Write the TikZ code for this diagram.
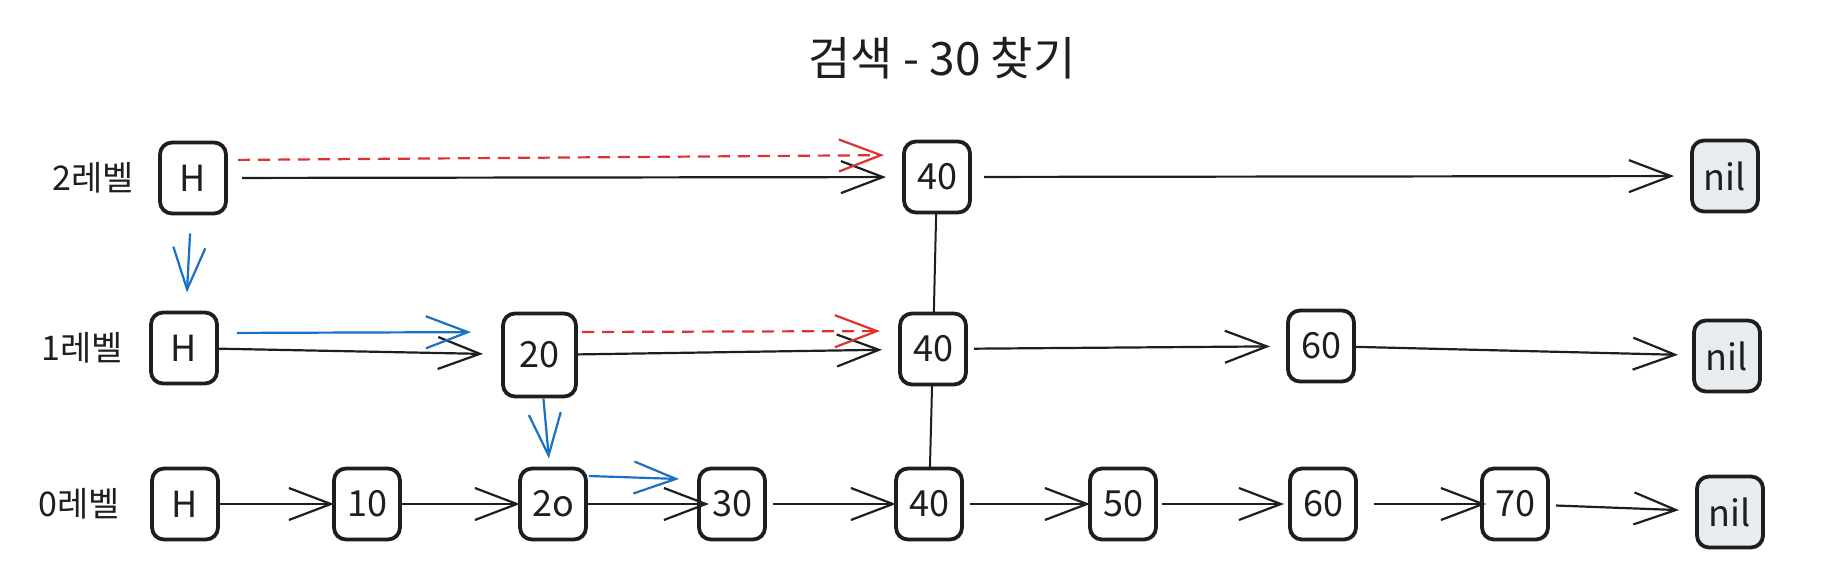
\documentclass[tikz,border=0pt]{standalone}
\usepackage{fontspec}
\setmainfont{Noto Sans CJK KR}
\usepackage{xcolor}
\usetikzlibrary{arrows.meta,positioning}
\definecolor{ink}{HTML}{1E1E1E}
\definecolor{pathred}{HTML}{E03131}
\definecolor{pathblue}{HTML}{1971C2}
\definecolor{nilgray}{HTML}{E9ECEF}

\begin{document}
\begin{tikzpicture}
            \tikzstyle{block} = [draw=ink, line width=1.9pt, rounded corners=6pt, outer sep=0pt, minimum width=33pt, minimum height=35.5pt, inner sep=1pt, text=ink, font=\fontsize{18}{20}\selectfont]
            \tikzstyle{nilblock} = [block, fill=nilgray]
            \tikzstyle{level} = [inner sep=0pt, outer sep=0pt, text=ink, font=\fontsize{17}{20}\selectfont]
            \tikzstyle{link} = [draw=ink, line width=1.1pt, -{Straight Barb[length=21pt,width=16pt]}]
            \tikzstyle{search} = [link, draw=pathblue]
            \tikzstyle{miss} = [link, draw=pathred, dash pattern=on 6pt off 4pt]
            \useasboundingbox (0pt,0pt) rectangle (924pt,-292pt);

            \node [text=ink, font=\fontsize{23}{26}\selectfont] (title) at (471pt,-29pt) {검색 - 30 찾기};

            % level 0
            \node [block] (h0) at (92.5pt,-252pt) {H};
            \node [block, right = 58pt of h0] (l0n10) {10};
            \node [block, right = 60pt of l0n10] (l0n20) {2o};
            \node [block, right = 56.5pt of l0n20] (l0n30) {30};
            \node [block, right = 65.5pt of l0n30] (l0n40) {40};
            \node [block, right = 64pt of l0n40] (l0n50) {50};
            \node [block, right = 67pt of l0n50] (l0n60) {60};
            \node [block, right = 63pt of l0n60] (l0n70) {70};
            \node [nilblock, right = 74.5pt of l0n70, yshift=-4pt] (nil0) {nil};
            \node [level, left = 16pt of h0] (lv0) {0레벨};

            % level 1
            \node [block, above = 42.5pt of h0, xshift=-0.5pt] (h1) {H};
            \node [block, right = 143pt of h1, yshift=-3.5pt, minimum width=36.5pt, minimum height=41.5pt] (l1n20) {20};
            \node [block, above = 42pt of l0n40, xshift=2pt] (l1n40) {40};
            \node [block, above = 43.5pt of l0n60, xshift=-1pt] (l1n60) {60};
            \node [nilblock, above = 42.5pt of nil0, xshift=-1.5pt] (nil1) {nil};
            \node [level, left = 14pt of h1] (lv1) {1레벨};

            % level 2
            \node [block, above = 49.5pt of h1, xshift=4.5pt] (h2) {H};
            \node [block, above = 50.5pt of l1n40, xshift=2pt] (l2n40) {40};
            \node [nilblock, above = 54.5pt of nil1, xshift=-1pt] (nil2) {nil};
            \node [level, left = 13pt of h2] (lv2) {2레벨};

            \draw [link, shorten <=8pt, shorten >=9pt] (h2) -- (l2n40);
            \draw [link, shorten <=7pt, shorten >=9pt] (l2n40) -- (nil2);
            \draw [miss, shorten <=6pt, shorten >=10pt] ([yshift=9pt]h2.east) -- ([yshift=11pt]l2n40.west);

            \draw [link, shorten <=1pt, shorten >=10pt] (h1) -- (l1n20);
            \draw [link, shorten <=1pt, shorten >=9pt] (l1n20) -- (l1n40);
            \draw [link, shorten <=4pt, shorten >=9pt] (l1n40) -- (l1n60);
            \draw [link, shorten <=1pt, shorten >=8pt] (l1n60) -- (nil1);
            \draw [search, shorten <=10pt, shorten >=16pt] ([yshift=7.5pt]h1.east) -- ([yshift=11.5pt]l1n20.west);
            \draw [miss, shorten <=3pt, shorten >=10pt] ([yshift=11.5pt]l1n20.east) -- ([yshift=9pt]l1n40.west);

            \draw [link] (h0) -- (l0n10);
            \draw [link] (l0n10) -- (l0n20);
            \draw [link, shorten <=1pt, shorten >=-5pt] (l0n20) -- (l0n30);
            \draw [link, shorten <=4pt] (l0n30) -- (l0n40);
            \draw [link, shorten <=4pt] (l0n40) -- (l0n50);
            \draw [link, shorten <=3pt, shorten >=3pt] (l0n50) -- (l0n60);
            \draw [link, shorten <=9pt, shorten >=-2pt] (l0n60) -- (l0n70);
            \draw [link, shorten <=4pt, shorten >=9pt] (l0n70) -- (nil0);
            \draw [search] ([xshift=1.5pt,yshift=14pt]l0n20.east) -- ([xshift=-10pt,yshift=12.5pt]l0n30.west);

            \draw [search, shorten <=10pt, shorten >=10pt] (h2) -- (h1);
            \draw [search, shorten <=1pt, shorten >=5pt] (l1n20) -- (l0n20);
            \draw [ink, line width=1pt] (l2n40) -- (l1n40);
            \draw [ink, line width=1pt] (l1n40) -- (l0n40);
\end{tikzpicture}
\end{document}
